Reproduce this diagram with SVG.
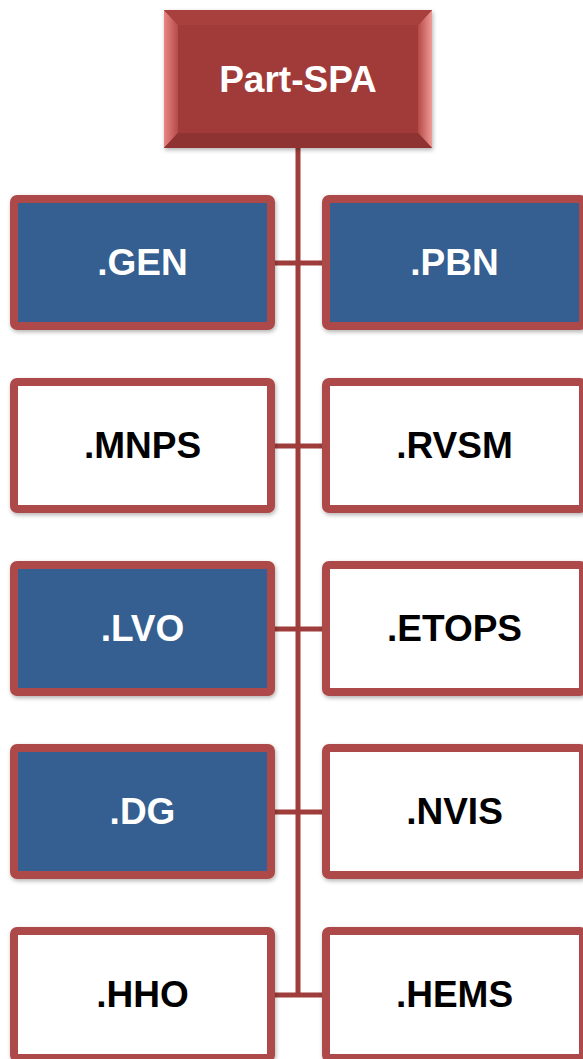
<svg xmlns="http://www.w3.org/2000/svg" width="583" height="1059" viewBox="0 0 583 1059">
<style>
.box{stroke:#AE4A48;stroke-width:8;filter:url(#sh)}
.blue{fill:#365F91}
.white{fill:#FFFFFF}
.t{font-family:"Liberation Sans",Arial,sans-serif;font-weight:bold;font-size:37px;text-anchor:middle}
.tw{fill:#FFFFFF}
.tb{fill:#000000}
.conn{stroke:#9E3D3B;stroke-width:5;fill:none}
</style>
<defs>
<filter id="sh" x="-10%" y="-10%" width="120%" height="120%">
<feDropShadow dx="1" dy="2" stdDeviation="2" flood-color="#000" flood-opacity="0.3"/>
</filter>
<linearGradient id="bevL" x1="0" y1="0" x2="1" y2="0">
<stop offset="0" stop-color="#E88784"/><stop offset="1" stop-color="#B44B48"/>
</linearGradient>
<linearGradient id="bevR" x1="0" y1="0" x2="1" y2="0">
<stop offset="0" stop-color="#B44B48"/><stop offset="1" stop-color="#F09A96"/>
</linearGradient>
</defs>
<g id="connectors">
<line class="conn" x1="298" y1="148" x2="298" y2="995"/>
<line class="conn" x1="275" y1="263" x2="322" y2="263"/>
<line class="conn" x1="275" y1="446" x2="322" y2="446"/>
<line class="conn" x1="275" y1="629" x2="322" y2="629"/>
<line class="conn" x1="275" y1="812" x2="322" y2="812"/>
<line class="conn" x1="275" y1="995" x2="322" y2="995"/>
</g>
<g id="part-spa">
<rect x="164" y="10" width="268" height="138" fill="#9E3A38" filter="url(#sh)"/>
<polygon points="164,10 178,25 178,133 164,148" fill="url(#bevL)"/>
<polygon points="432,10 418,25 418,133 432,148" fill="url(#bevR)"/>
<polygon points="164,10 432,10 418,25 178,25" fill="#A8403E"/>
<polygon points="164,148 432,148 418,133 178,133" fill="#8E3331"/>
<rect x="178" y="25" width="240" height="108" fill="#A03B39"/>
<text class="t tw" x="298" y="92">Part-SPA</text>
</g>
<g id="gen"><rect class="box blue" x="14" y="199" width="257" height="127" rx="3"/><text class="t tw" x="142.5" y="275">.GEN</text></g>
<g id="pbn"><rect class="box blue" x="326" y="199" width="257" height="127" rx="3"/><text class="t tw" x="454.5" y="275">.PBN</text></g>
<g id="mnps"><rect class="box white" x="14" y="382" width="257" height="127" rx="3"/><text class="t tb" x="142.5" y="458">.MNPS</text></g>
<g id="rvsm"><rect class="box white" x="326" y="382" width="257" height="127" rx="3"/><text class="t tb" x="454.5" y="458">.RVSM</text></g>
<g id="lvo"><rect class="box blue" x="14" y="565" width="257" height="127" rx="3"/><text class="t tw" x="142.5" y="641">.LVO</text></g>
<g id="etops"><rect class="box white" x="326" y="565" width="257" height="127" rx="3"/><text class="t tb" x="454.5" y="641">.ETOPS</text></g>
<g id="dg"><rect class="box blue" x="14" y="748" width="257" height="127" rx="3"/><text class="t tw" x="142.5" y="824">.DG</text></g>
<g id="nvis"><rect class="box white" x="326" y="748" width="257" height="127" rx="3"/><text class="t tb" x="454.5" y="824">.NVIS</text></g>
<g id="hho"><rect class="box white" x="14" y="931" width="257" height="127" rx="3"/><text class="t tb" x="142.5" y="1007">.HHO</text></g>
<g id="hems"><rect class="box white" x="326" y="931" width="257" height="127" rx="3"/><text class="t tb" x="454.5" y="1007">.HEMS</text></g>
</svg>
